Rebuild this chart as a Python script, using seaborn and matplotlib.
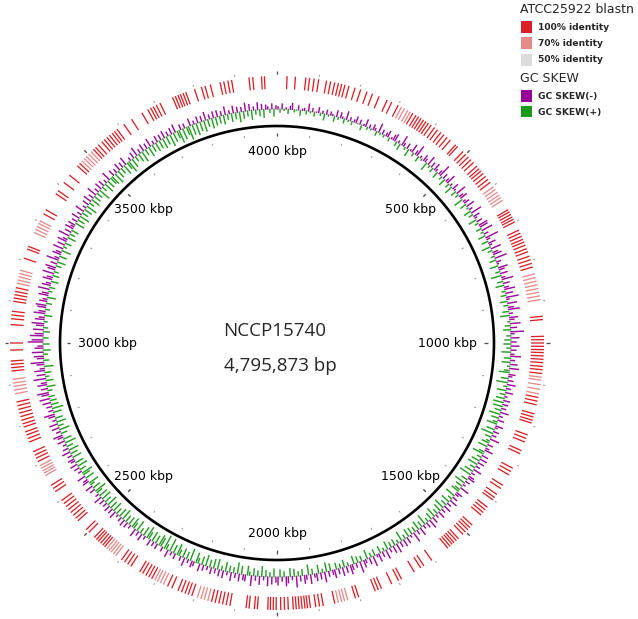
import numpy as np
import matplotlib
matplotlib.use("Agg")
import matplotlib.pyplot as plt
import seaborn as sns
from matplotlib.patches import Rectangle

# ---------------- data ----------------
genome_name = "NCCP15740"
genome_size_label = "4,795,873 bp"
SCALE_KBP = 4000  # circumference of the drawn kbp scale

tick_label_kbp = [500, 1000, 1500, 2000, 2500, 3000, 3500, 4000]
tick_labels = ["500 kbp", "1000 kbp", "1500 kbp", "2000 kbp",
               "2500 kbp", "3000 kbp", "3500 kbp", "4000 kbp"]
minor_tick_kbp = list(range(0, 4000, 100))
major_tick_kbp = [0, 500, 1000, 1500, 2000, 2500, 3000, 3500]

# BLAST hits vs ATCC25922 (position, kbp) - high identity
hits_high_kbp = [
    24, 44, 69, 78, 89, 100, 119, 129, 139, 148, 156, 164, 174, 189, 203, 219, 233, 250,
    271, 283, 300, 340, 349, 356, 363, 370, 377, 384, 392, 402, 411, 421, 430, 440, 450,
    467, 473, 491, 500, 509, 518, 527, 539, 547, 554, 562, 571, 580, 589,
    667, 673, 680, 687, 693, 700, 722, 730, 738, 746, 753, 761, 770, 778,
    789, 798, 807, 816, 936, 944,
    984, 992, 1000, 1008, 1016, 1023, 1031, 1039, 1047, 1056, 1064, 1073,
    1131, 1140, 1149, 1171, 1179, 1187, 1194, 1224, 1233, 1242, 1264, 1272,
    1311, 1320, 1329, 1358, 1367, 1384, 1393, 1400, 1422, 1430, 1438, 1446,
    1478, 1486, 1493, 1501, 1509, 1524, 1531, 1538, 1544, 1551, 1558,
    1606, 1629, 1638, 1656, 1691, 1699, 1717, 1744, 1752, 1760, 1802, 1810,
    1861, 1889, 1898, 1907, 1920, 1927, 1933, 1940, 1947, 1954, 1961,
    1973, 1982, 1991, 2002, 2009, 2016, 2022, 2047, 2054, 2067, 2074,
    2113, 2122, 2131, 2140, 2149, 2158, 2207, 2216, 2224, 2233, 2242, 2258, 2269,
    2311, 2319, 2327, 2336, 2344, 2369, 2378, 2387, 2396,
    2447, 2453, 2460, 2467, 2473, 2480, 2498, 2507,
    2536, 2544, 2553, 2562, 2571, 2580, 2589, 2598, 2624, 2633, 2642,
    2707, 2716, 2724, 2733, 2758, 2767, 2776, 2784,
    2796, 2804, 2813, 2822, 2831, 2840, 2849, 2858,
    2933, 2941, 2949, 2957, 2983, 3000, 3044, 3058, 3067, 3076,
    3100, 3108, 3116, 3124, 3133, 3206, 3229, 3236, 3322, 3333,
    3378, 3387, 3411, 3433, 3462, 3470, 3517, 3524, 3533,
    3544, 3552, 3560, 3568, 3576, 3583, 3591, 3611, 3633, 3662,
    3678, 3686, 3693, 3701, 3711, 3744, 3751, 3758, 3764, 3771, 3778,
    3800, 3817, 3826, 3839, 3863, 3872, 3882, 3891, 3933, 3942, 3963, 3970,
]
# BLAST hits - lower identity (paler)
hits_mid_kbp = [
    309, 317, 326, 333, 602, 610, 618, 626, 633, 641,
    833, 842, 851, 860, 869, 878, 887, 896, 1082, 1089, 1100, 1111, 1122,
    1829, 1837, 1844, 1852, 2167, 2176, 2184, 2193, 2280, 2288, 2296, 2303,
    2413, 2420, 2427, 2433, 2440, 2669, 2676, 2682, 2689, 2696,
    2878, 2887, 2896, 2904, 2913, 3144, 3152, 3160, 3168, 3176,
    3272, 3280, 3288, 3296, 3303, 3478, 3486, 3493, 3501, 3509,
]

# GC skew per window (x100), windows evenly spaced around the scale
gc_skew = [
    -3, 4, -6, 2, -2, 5, -4, -7, 3, 1, -5, 6, -2, -3, 4, -8, 2, -4, 5, -1, -6, 3, -3, 7, -5, 2, -4, -2, 6, -7,
    3, -6, -2, 5, -9, 2, -4, 4, -3, -7, 1, -5, 6, -2, -8, 3, -4, 2, -6, -3, 5, -10, 2, -5, 3, -4, -7, 4, -2, -6,
    -8, 5, -3, 7, -11, -4, 3, -6, 8, -2, -9, 4, -5, -12, 6, -3, 2, -7, -4, 9, -10, 3, -6, 5, -8, -3, 7, -5, -13, 4,
    -6, 8, -4, -10, 5, -3, 9, -7, -2, 6, -11, 4, -5, -8, 10, -3, -6, 7, -9, 2, -4, 8, -12, 5, -7, -3, 9, -6, 4, -10,
    -9, 6, -12, 3, -5, 8, -14, -4, 7, -8, -3, 10, -11, 5, -6, -9, 4, -13, 7, -5, -2, 9, -10, -6, 5, -8, 11, -4, -12, 6,
    -7, 9, -5, -11, 4, -8, 6, -13, -3, 8, -10, 5, -6, -12, 7, -4, 10, -9, -5, 3, -11, 6, -7, 8, -14, -4, 5, -9, 7, -6,
    8, -9, 5, -6, 10, -4, -11, 7, -5, 9, -8, 3, -10, 6, 11, -7, -4, 8, -6, 12, -9, 4, -5, 10, -8, 6, -3, 9, -7, 11,
    -6, 10, -5, 7, -9, 12, -4, 8, -7, 5, 11, -8, -3, 9, -6, 13, -5, 7, -10, 4, 8, -6, 10, -4, -9, 6, 12, -7, 5, -8,
    9, -7, 11, -5, 6, -9, 10, -4, 13, -6, -8, 7, -5, 12, -3, 8, -10, 6, 9, -7, -4, 11, -6, 5, -9, 10, -5, 7, -8, 12,
    -5, 9, -8, 6, -4, 11, -7, 8, -10, 5, -6, 12, -4, 7, -9, 10, -5, 6, -11, 8, -3, 9, -7, 5, -8, 11, -6, 4, -10, 7,
    -8, 6, -5, 9, -10, 4, -6, 8, -9, -3, 7, -11, 5, -7, 10, -4, -8, 6, -12, 7, -5, 9, -6, -10, 4, -7, 8, -9, 5, -6,
    7, -9, -5, 8, -6, 10, -11, 4, -7, 9, -8, -4, 6, -10, 11, -5, -9, 7, -6, 5, -12, 8, -4, 9, -7, -10, 6, -5, 8, -9,
    -6, 9, -8, 5, -10, 7, -4, 11, -9, 6, -5, 8, -11, 4, 10, -7, -6, 9, -8, 12, -5, 6, -9, 7, -4, 10, -8, 5, -7, 11,
    -5, 10, -7, 8, -4, 12, -6, 9, -8, 6, 11, -5, -7, 13, -4, 8, -9, 10, -5, 7, 12, -6, 9, -4, 14, -8, 6, 15, -5, 10,
    12, -6, 9, -5, 11, -7, 8, 13, -4, 10, -8, 6, -5, 12, -9, 7, 11, -4, 9, -6, 8, -7, 12, -5, 10, -3, 7, -8, 11, -6,
    9, -7, 12, -5, 8, -6, 11, -9, 10, -4, 7, 13, -6, 9, -8, 5, 11, -7, -5, 10, -9, 8, 12, -4, 7, -6, 11, -8, 9, -5,
    -7, 10, -5, 8, -9, 11, -6, 7, -4, 12, -8, 9, -6, -10, 7, -5, 11, -8, 6, -9, 10, -4, 8, -7, -11, 9, -5, 12, -6, 8,
    -9, 7, -11, 6, -8, -12, 5, -7, 9, -10, -6, 8, -13, 4, -9, 7, -11, -5, 10, -8, -14, 6, -7, -10, 5, -12, 8, -9, -6, 7,
    -16, -12, 6, -14, -9, 7, -11, 5, -8, -13, 4, -10, -6, 8, -12, -7, 5, -9, -11, 6, -8, -5, 9, -10, -7, 4, -12, 6, -9, -5,
    8, -10, -6, 7, -12, 5, -8, -11, 6, -7, 9, -13, -5, 8, -9, -6, 10, -11, 4, -8, 7, -10, -5, 9, -12, 6, -7, 8, -9, -4,
    -8, 10, -6, 8, -9, 11, -5, 7, -10, 9, -4, 12, -7, 6, -9, 10, -6, 8, -11, 7, -5, 13, -8, 6, -7, 11, -4, 9, -10, 8,
    10, -7, 12, -5, 9, -8, 7, -6, 11, -9, 8, 13, -4, 10, -7, 6, -10, 9, -5, 12, -8, 7, -6, 11, -9, 8, -4, 10, -7, 9,
    -6, 11, -8, 9, -5, 13, -7, 10, -9, 8, 14, -6, 12, -5, 9, 15, -8, 11, -4, 13, -7, 10, -6, 12, -9, 8, -5, 11, -7, 9,
    -7, 8, -5, 10, -9, 6, -4, 9, -8, 7, -6, 11, -5, 8, -9, 6, -7, 10, -4, 5, -8, 7, -6, 9, -5, -3, 4, -6, 8, -4,
]

legend_blast_title = "ATCC25922 blastn"
legend_blast_labels = ["100% identity", "70% identity", "50% identity"]
legend_gc_title = "GC SKEW"
legend_gc_labels = ["GC SKEW(-)", "GC SKEW(+)"]

# ---------------- style ----------------
sns.set_style("white")
plt.rcParams['font.family'] = ['DejaVu Sans']

RED = "#dc1f26"
PALE = "#e58a8a"
GREY = "#dcdcdc"
PURPLE = "#960096"
GREEN = "#1a9a1a"

W, H = 638, 619
cx, cy = 277, 343
RMAX = 282
R_CIRCLE = 217
R_GC = 234
R_BLAST0, R_BLAST1 = 254, 267

fig = plt.figure(figsize=(W / 100, H / 100), dpi=100)
ax = fig.add_axes([(cx - RMAX) / W, (H - cy - RMAX) / H, 2 * RMAX / W, 2 * RMAX / H],
                  projection='polar')
ax.set_theta_zero_location('N')
ax.set_theta_direction(-1)
ax.set_ylim(0, RMAX)
ax.set_axis_off()


def to_theta(kbp):
    return np.asarray(kbp, dtype=float) / SCALE_KBP * 2 * np.pi


# backbone circle
t = np.linspace(0, 2 * np.pi, 1441)
ax.plot(t, np.full_like(t, R_CIRCLE), color="black", lw=1.9, solid_capstyle="butt")

# scale ticks (inner and outer)
ax.vlines(to_theta(minor_tick_kbp), 207.5, 209.5, color="#a0a0a0", lw=0.8)
ax.vlines(to_theta(major_tick_kbp), 207, 210.5, color="#505050", lw=0.9)
ax.vlines(to_theta(minor_tick_kbp), 269.5, 271.5, color="#a0a0a0", lw=0.8)
ax.vlines(to_theta(major_tick_kbp), 269, 272.5, color="#505050", lw=0.9)

# tick labels
for k, lab in zip(tick_label_kbp, tick_labels):
    th = float(to_theta(k))
    r = 191 - 21 * abs(np.sin(th)) ** 6
    ax.text(th, r, lab, ha="center", va="center", fontsize=9, color="black")

# GC skew ring: one radial spike per window, negative values outward
v = np.asarray(gc_skew, dtype=float)
n = len(v)
win = SCALE_KBP / n
centers = (np.arange(n) + 0.5) * win
th_gc = to_theta(centers)
K = 0.95
neg = v < 0
ax.vlines(th_gc[neg], R_GC - 0.5, R_GC - v[neg] * K, color=PURPLE, lw=1.05, alpha=0.95)
ax.vlines(th_gc[~neg], R_GC + 0.5, R_GC - v[~neg] * K, color=GREEN, lw=1.05, alpha=0.95)

# BLAST ring
bw = float(to_theta(3.2))
ax.bar(to_theta(hits_mid_kbp), R_BLAST1 - R_BLAST0, width=bw, bottom=R_BLAST0,
       color=PALE, linewidth=0)
ax.bar(to_theta(hits_high_kbp), R_BLAST1 - R_BLAST0, width=bw, bottom=R_BLAST0,
       color=RED, linewidth=0)

# centre text
fig.text(275 / W, 1 - 331 / H, genome_name, ha="center", va="center",
         fontsize=13.5, family=["Open Sans", "DejaVu Sans"])
fig.text(280 / W, 1 - 366 / H, genome_size_label, ha="center", va="center",
         fontsize=13.5, family=["Open Sans", "DejaVu Sans"])

# legend
def px_rect(x, y, w, h, color):
    fig.add_artist(Rectangle((x / W, 1 - (y + h) / H), w / W, h / H,
                             transform=fig.transFigure, facecolor=color,
                             edgecolor="none"))

fig.text(520 / W, 1 - 9.5 / H, legend_blast_title, ha="left", va="center", fontsize=9)
for lab, col, yc in zip(legend_blast_labels, [RED, PALE, GREY], [27, 43, 60]):
    px_rect(521, yc - 5.5, 11, 11, col)
    fig.text(538 / W, 1 - yc / H, lab, ha="left", va="center", fontsize=6.6,
             fontweight="semibold")
fig.text(520 / W, 1 - 78 / H, legend_gc_title, ha="left", va="center", fontsize=9)
for lab, col, yc in zip(legend_gc_labels, [PURPLE, GREEN], [96, 112]):
    px_rect(521, yc - 5.5, 11, 11, col)
    fig.text(538 / W, 1 - yc / H, lab, ha="left", va="center", fontsize=6.6,
             fontweight="semibold")

fig.savefig("out.png", dpi=100)
